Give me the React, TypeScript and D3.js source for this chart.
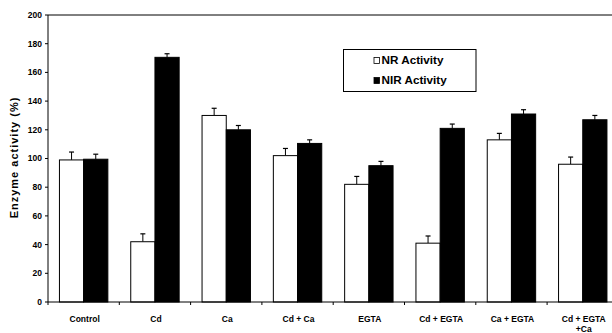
import React from "react";
import * as d3 from "d3";

const categories = ["Control", "Cd", "Ca", "Cd + Ca", "EGTA", "Cd + EGTA", "Ca + EGTA", "Cd + EGTA|+Ca"];
const nrValues = [99, 42, 130, 102, 82, 41, 113, 96];
const nrErrors = [5.5, 5.5, 5, 5, 5.5, 5, 4.5, 5];
const nirValues = [99.5, 170.5, 120, 110.5, 95, 121, 131, 127];
const nirErrors = [3.5, 2.5, 3, 2.5, 3, 3, 3, 3];
const yTicks = [0, 20, 40, 60, 80, 100, 120, 140, 160, 180, 200];
const seriesKeys = ["NR", "NIR"];
const seriesLabels = ["NR Activity", "NIR Activity"];

const W = 612;
const H = 333;
const left = 48;
const right = 618.4;
const top = 15;
const bottom = 302;
const font = "'Liberation Sans', Arial, sans-serif";

export default function App() {
  const x = d3.scaleBand<string>().domain(categories).range([left, right]).padding(0);
  const xi = d3.scaleBand<string>().domain(seriesKeys).range([0, x.bandwidth()]).paddingInner(0).paddingOuter(0.473);
  const y = d3.scaleLinear().domain([0, 200]).range([bottom, top]);
  const series = [
    { key: "NR", values: nrValues, errors: nrErrors, fill: "#fff" },
    { key: "NIR", values: nirValues, errors: nirErrors, fill: "#000" },
  ];
  const boundaries = categories.map((c) => x(c)!).concat([right]);

  return (
    <svg width={W} height={H} style={{ position: "absolute", left: 0, top: 0, background: "#fff" }}>
      {series.map((s) =>
        categories.map((c, i) => {
          const bx = x(c)! + xi(s.key)!;
          const bw = xi.bandwidth();
          const yt = y(s.values[i]);
          const ye = y(s.values[i] + s.errors[i]);
          const cx = bx + bw / 2;
          return (
            <g key={s.key + c}>
              <line x1={cx} x2={cx} y1={yt} y2={ye} stroke="#000" strokeWidth={1} />
              <line x1={cx - 2.5} x2={cx + 2.5} y1={ye} y2={ye} stroke="#000" strokeWidth={1.2} />
              <rect x={bx} y={yt} width={bw} height={bottom - yt} fill={s.fill} stroke="#000" strokeWidth={1} />
            </g>
          );
        })
      )}
      <line x1={left} x2={left} y1={top} y2={bottom} stroke="#000" strokeWidth={1} />
      <line x1={left} x2={W} y1={bottom} y2={bottom} stroke="#000" strokeWidth={1} />
      <line x1={left} x2={W} y1={top} y2={top} stroke="#000" strokeWidth={1} />
      {yTicks.map((t) => (
        <g key={t}>
          <line x1={left - 3} x2={left} y1={y(t)} y2={y(t)} stroke="#000" />
          <text x={42} y={y(t)} dy="0.35em" textAnchor="end" fontFamily={font} fontWeight="bold" fontSize={8.5}>
            {t}
          </text>
        </g>
      ))}
      {boundaries.map((b, i) => (
        <line key={i} x1={b} x2={b} y1={bottom} y2={bottom + 3} stroke="#000" />
      ))}
      {categories.map((c) => {
        const lines = c.split("|");
        const cx = x(c)! + x.bandwidth() / 2 + 1;
        return (
          <text key={c} x={cx} y={321.5} textAnchor="middle" fontFamily={font} fontWeight="bold" fontSize={8.5}>
            {lines.map((l, j) => (
              <tspan key={j} x={cx} dy={j === 0 ? 0 : 10}>
                {l}
              </tspan>
            ))}
          </text>
        );
      })}
      <text
        transform={`translate(17.5,157.5) rotate(-90)`}
        textAnchor="middle"
        fontFamily={font}
        fontWeight="bold"
        fontSize={11}
        letterSpacing={1}
      >
        Enzyme activity (%)
      </text>
      <rect x={343.5} y={49.5} width={132.5} height={42} fill="#fff" stroke="#000" strokeWidth={1} />
      {seriesLabels.map((l, i) => (
        <g key={l}>
          <rect x={374} y={57.5 + i * 20} width={5.5} height={6} fill={series[i].fill} stroke="#000" strokeWidth={0.8} />
          <text x={381.5} y={64 + i * 20} fontFamily={font} fontWeight="bold" fontSize={11.7}>
            {l}
          </text>
        </g>
      ))}
    </svg>
  );
}
